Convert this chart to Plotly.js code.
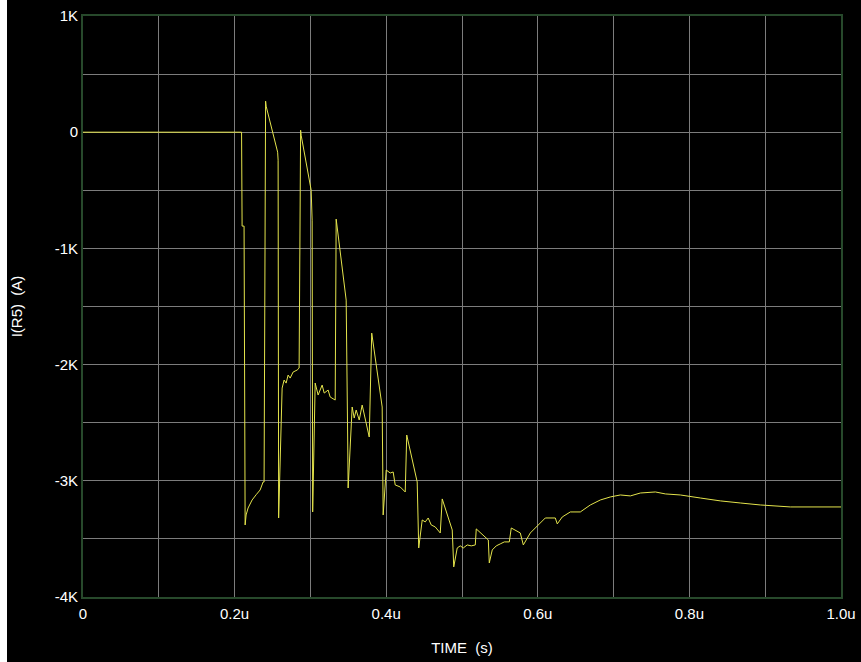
<!DOCTYPE html>
<html>
<head>
<meta charset="utf-8">
<script src="https://cdn.plot.ly/plotly-3.0.1.min.js"></script>
<style>
  html, body { margin: 0; padding: 0; background: #ffffff; }
  #chart { position: absolute; left: 7px; top: 0; width: 854px; height: 662px; }
</style>
</head>
<body>
<div id="chart"></div>
<script>
// Time in microseconds
const timeUs = [
  0, 0.2092, 0.2099, 0.2125, 0.2139, 0.2152, 0.2178, 0.2231, 0.2284, 0.2337, 0.2376, 0.2389,
  0.2409, 0.2416, 0.2568, 0.2574, 0.2581,
  0.2627, 0.2653, 0.2680, 0.2706, 0.2733, 0.2772, 0.2825, 0.2851,
  0.2871, 0.2878, 0.3010, 0.3023, 0.3030,
  0.3063, 0.3102, 0.3155, 0.3182, 0.3234, 0.3261, 0.3314, 0.3327,
  0.3340, 0.3472, 0.3492, 0.3498,
  0.3551, 0.3578, 0.3604, 0.3644, 0.3683, 0.3736, 0.3776,
  0.3809, 0.3947, 0.3960,
  0.4000, 0.4053, 0.4092, 0.4119, 0.4185, 0.4251,
  0.4271, 0.4409, 0.4429,
  0.4475, 0.4515, 0.4554, 0.4594, 0.4647, 0.4713,
  0.4739, 0.4871, 0.4891,
  0.4937, 0.4977, 0.5017, 0.5069, 0.5122, 0.5175,
  0.5188, 0.5347, 0.5360,
  0.5399, 0.5452, 0.5505, 0.5558, 0.5624,
  0.5650, 0.5769, 0.5809, 0.5901, 0.5980, 0.6099, 0.6231, 0.6257, 0.6323, 0.6429,
  0.6561, 0.6693, 0.6825, 0.6957, 0.7089, 0.7221, 0.7353, 0.7551, 0.7683, 0.7881,
  0.8145, 0.8409, 0.8673, 0.8937, 0.9333, 1.0000
];
// Current I(R5) in amperes
const currentA = [
  0, 0, -808, -808, -3380, -3294, -3234, -3165, -3120, -3079, -3010, -3010,
  267, 224, -172, -241, -3320,
  -2202, -2133, -2159, -2090, -2116, -2064, -2047, -2030,
  17, -26, -499, -757, -3268,
  -2159, -2262, -2176, -2245, -2219, -2279, -2305, -2305,
  -748, -1445, -2649, -3062,
  -2365, -2460, -2391, -2477, -2348, -2520, -2623,
  -1729, -2365, -3294,
  -2907, -2933, -2924, -3036, -3053, -3096,
  -2606, -3010, -3578,
  -3337, -3354, -3320, -3380, -3397, -3449,
  -3156, -3423, -3741,
  -3578, -3560, -3578, -3552, -3560, -3552,
  -3414, -3509, -3707,
  -3595, -3560, -3543, -3526, -3526,
  -3406, -3449, -3552, -3449, -3397, -3320, -3320, -3371, -3311, -3268,
  -3268, -3208, -3165, -3139, -3122, -3130, -3105, -3096, -3113, -3122,
  -3148, -3173, -3191, -3208, -3225, -3225
];

const xTickVals = [0, 0.1, 0.2, 0.3, 0.4, 0.5, 0.6, 0.7, 0.8, 0.9, 1.0];
const xTickText = ["0", "", "0.2u", "", "0.4u", "", "0.6u", "", "0.8u", "", "1.0u"];
const yTickVals = [1000, 500, 0, -500, -1000, -1500, -2000, -2500, -3000, -3500, -4000];
const yTickText = ["1K", "", "0", "", "-1K", "", "-2K", "", "-3K", "", "-4K"];

const gridColor = "#7c7c7c";
const borderColor = "#27492b";

Plotly.newPlot("chart", [{
  x: timeUs,
  y: currentA,
  type: "scatter",
  mode: "lines",
  line: { color: "#e4e44c", width: 1 },
  hoverinfo: "skip"
}], {
  width: 854,
  height: 662,
  paper_bgcolor: "#000000",
  plot_bgcolor: "#000000",
  showlegend: false,
  margin: { l: 76, r: 20, t: 16, b: 65 },
  font: { family: "Liberation Sans, Arial, sans-serif", size: 15, color: "#ffffff" },
  xaxis: {
    range: [0, 1.0],
    tickvals: xTickVals,
    ticktext: xTickText,
    showgrid: true,
    gridcolor: gridColor,
    gridwidth: 1,
    zeroline: false,
    showline: true,
    mirror: true,
    linecolor: borderColor,
    linewidth: 2,
    ticks: "",
    ticklabelstandoff: 2,
    tickfont: { size: 15, color: "#ffffff" },
    title: { text: "TIME\u00a0 (s)", font: { size: 15, color: "#ffffff" }, standoff: 21 },
    automargin: false
  },
  yaxis: {
    range: [-4000, 1000],
    tickvals: yTickVals,
    ticktext: yTickText,
    showgrid: true,
    gridcolor: gridColor,
    gridwidth: 1,
    zeroline: false,
    showline: true,
    mirror: true,
    linecolor: borderColor,
    linewidth: 2,
    ticks: "",
    tickfont: { size: 15, color: "#ffffff" },
    title: { text: "I(R5)\u00a0 (A)", font: { size: 15, color: "#ffffff" }, standoff: 28 },
    automargin: false
  }
}, { displayModeBar: false, staticPlot: true });
</script>
</body>
</html>
